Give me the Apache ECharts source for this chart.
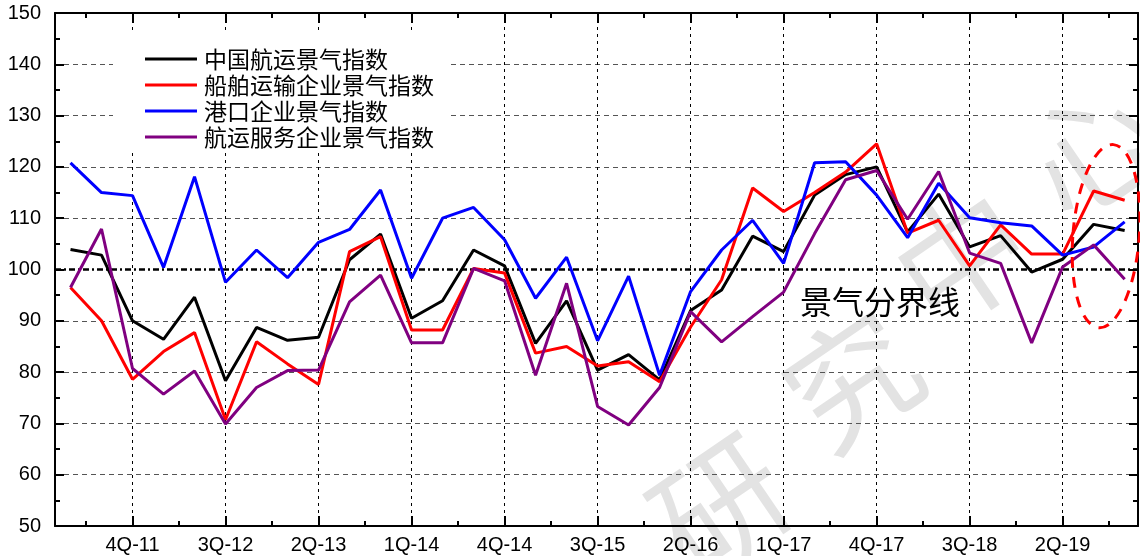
<!DOCTYPE html>
<html>
<head>
<meta charset="utf-8">
<script src="https://cdn.jsdelivr.net/npm/echarts@6/dist/echarts.min.js"></script>
<style>
  html, body { margin: 0; padding: 0; background: #fff; }
  #chart { width: 1140px; height: 556px; }
</style>
</head>
<body>
<div id="chart"></div>
<script>
// Quarterly periods, 2Q-2011 .. 4Q-2019
const quarters = ['2Q-11','3Q-11','4Q-11','1Q-12','2Q-12','3Q-12','4Q-12','1Q-13','2Q-13','3Q-13','4Q-13',
  '1Q-14','2Q-14','3Q-14','4Q-14','1Q-15','2Q-15','3Q-15','4Q-15','1Q-16','2Q-16','3Q-16','4Q-16',
  '1Q-17','2Q-17','3Q-17','4Q-17','1Q-18','2Q-18','3Q-18','4Q-18','1Q-19','2Q-19','3Q-19','4Q-19'];

// Index values per quarter
const chinaShipping = [103.9, 102.8, 90.0, 86.4, 94.6, 78.3, 88.7, 86.2, 86.8, 101.9, 106.9, 90.5, 93.9, 103.8, 100.7,
  85.6, 93.9, 80.4, 83.4, 78.5, 92.0, 96.0, 106.5, 103.5, 114.5, 118.5, 120.0, 107.3, 114.7, 104.4, 106.6, 99.5, 102.0, 108.8, 107.6];
const shipTransport = [96.5, 90.0, 78.6, 84.0, 87.7, 70.7, 85.9, 81.6, 77.6, 103.5, 106.4, 88.2, 88.2, 100.2, 99.3,
  83.7, 85.0, 81.2, 82.0, 78.1, 88.8, 98.0, 115.9, 111.3, 115.0, 119.0, 124.5, 107.1, 109.6, 100.7, 108.7, 103.0, 103.0, 115.3, 113.5];
const portEnterprise = [120.8, 115.0, 114.4, 100.4, 118.1, 97.5, 103.8, 98.4, 105.3, 107.8, 115.5, 98.3, 110.0, 112.1, 105.8,
  94.4, 102.4, 86.1, 98.7, 79.4, 95.7, 103.8, 109.6, 101.2, 120.8, 121.0, 114.5, 106.2, 116.8, 110.1, 109.1, 108.5, 102.8, 104.4, 109.3];
const shippingService = [96.5, 107.9, 80.7, 75.7, 80.2, 69.9, 77.0, 80.3, 80.4, 93.7, 98.9, 85.7, 85.7, 100.2, 97.8,
  79.4, 97.3, 73.3, 69.7, 77.0, 91.8, 85.9, 90.8, 95.6, 107.0, 117.5, 119.3, 109.8, 119.1, 103.2, 101.2, 85.7, 100.5, 104.8, 98.1];

const seriesNames = ['中国航运景气指数', '船舶运输企业景气指数', '港口企业景气指数', '航运服务企业景气指数'];
const seriesColors = ['#000000', '#ff0000', '#0000ff', '#800080'];
const seriesValues = [chinaShipping, shipTransport, portEnterprise, shippingService];

const boomLine = 100;
const boomLabel = '景气分界线';
const watermarkChars = ['研', '究', '中', '心'];

// Every third quarter is labelled (4Q-11, 3Q-12, ...); minor ticks sit half-way between them
const labelledIdx = quarters.map(function (q, i) { return i; }).filter(function (i) { return i % 3 === 2; });
const minorIdx = quarters.map(function (q, i) { return i + 0.5; }).filter(function (v) { return (v - 0.5) % 3 === 0; });
const idxMin = -0.5, idxMax = 34.43;

const chart = echarts.init(document.getElementById('chart'));

const axisLineStyle = { color: '#000', width: 2 };
const tickStyle = { color: '#000', width: 2 };
const labelFont = 'Liberation Sans, Arial, sans-serif';

function majorX(position, withLabels) {
  return {
    type: 'value', position: position, min: idxMin, max: idxMax,
    axisLine: { show: true, onZero: false, lineStyle: axisLineStyle },
    axisTick: { show: true, inside: true, length: 10, lineStyle: tickStyle, customValues: labelledIdx },
    axisLabel: withLabels ? {
      show: true, margin: 9, color: '#000', fontSize: 20, fontFamily: labelFont,
      customValues: labelledIdx,
      formatter: function (v) { return quarters[Math.round(v)] || ''; }
    } : { show: false },
    splitLine: withLabels ? { show: true, lineStyle: { color: '#000', width: 1, type: [3, 4] } } : { show: false }
  };
}
function minorX(position) {
  return {
    type: 'value', position: position, min: idxMin, max: idxMax,
    axisLine: { show: false, onZero: false },
    axisTick: { show: true, inside: true, length: 5, lineStyle: tickStyle, customValues: minorIdx },
    axisLabel: { show: false, customValues: minorIdx },
    splitLine: { show: false }
  };
}
function yAx(position, withLabels) {
  const gridColors = [];
  for (let v = 50; v <= 150; v += 10) gridColors.push(v === boomLine ? 'rgba(0,0,0,0)' : '#555555');
  return {
    type: 'value', position: position, min: 50, max: 150, interval: 10,
    axisLine: { show: true, onZero: false, lineStyle: axisLineStyle },
    axisTick: { show: true, inside: true, length: 9, lineStyle: tickStyle },
    minorTick: { show: true, splitNumber: 2, length: 5, lineStyle: tickStyle },
    axisLabel: withLabels ? { show: true, margin: 14, color: '#000', fontSize: 20, fontFamily: labelFont } : { show: false },
    splitLine: withLabels ? { show: true, lineStyle: { color: gridColors, width: 1, type: [5, 4] } } : { show: false },
    minorSplitLine: { show: false }
  };
}

const series = seriesNames.map(function (name, k) {
  const s = {
    name: name, type: 'line', xAxisIndex: 0, yAxisIndex: 0,
    data: seriesValues[k].map(function (v, i) { return [i, v]; }),
    showSymbol: false, symbol: 'none', smooth: false,
    lineStyle: { color: seriesColors[k], width: 3 },
    itemStyle: { color: seriesColors[k] },
    emphasis: { disabled: true }, z: 3 + k
  };
  if (k === 0) {
    s.markLine = {
      silent: true, symbol: 'none', label: { show: false },
      lineStyle: { color: '#000', width: 2.5, type: [6, 3, 2, 3] },
      data: [{ yAxis: boomLine }], z: 2
    };
  }
  return s;
});

chart.setOption({
  animation: false,
  backgroundColor: '#fff',
  grid: { left: 55, right: 2, top: 13, bottom: 30, containLabel: false },
  xAxis: [majorX('bottom', true), minorX('bottom'), majorX('top', false), minorX('top')],
  yAxis: [yAx('left', true), yAx('right', false)],
  legend: {
    orient: 'vertical', left: 113, top: 32,
    padding: [14, 16, 0, 32], itemGap: 0,
    backgroundColor: '#fff',
    icon: 'rect', itemWidth: 52, itemHeight: 3,
    textStyle: { fontSize: 23, color: '#000', fontFamily: 'Noto Sans CJK SC', lineHeight: 26, padding: [0, 0, 0, 2] },
    data: seriesNames, selectedMode: false
  },
  series: series
});

// Annotations: watermark, boom-line caption and the dashed ellipse around the latest quarters
const toPx = function (i, v) { return chart.convertToPixel({ xAxisIndex: 0, yAxisIndex: 0 }, [i, v]); };
const wmPos = [[720, 505], [852, 380], [962, 258], [1092, 148]];
const c = toPx(33.4, 106.5);
const e1 = toPx(33.4 + 1.07, 106.5 + 17.9);
chart.setOption({
  graphic: [
    ...watermarkChars.map(function (ch, k) {
      return {
        type: 'text', x: wmPos[k][0], y: wmPos[k][1], rotation: 0.6, z: -10, silent: true,
        style: { text: ch, fill: '#e3e3e3', font: 'normal 130px "Noto Sans CJK SC"', align: 'center', verticalAlign: 'middle' }
      };
    }),
    {
      type: 'text', left: 800, top: 286, silent: true, z: 10,
      style: { text: boomLabel, fill: '#000', font: 'normal 32px "Noto Sans CJK SC"' }
    },
    {
      type: 'ellipse', x: c[0], y: c[1], rotation: -0.08, silent: true, z: 20,
      shape: { cx: 0, cy: 0, rx: e1[0] - c[0], ry: c[1] - e1[1] },
      style: { fill: 'none', stroke: '#ff0000', lineWidth: 3, lineDash: [11, 9] }
    }
  ]
});
</script>
</body>
</html>
